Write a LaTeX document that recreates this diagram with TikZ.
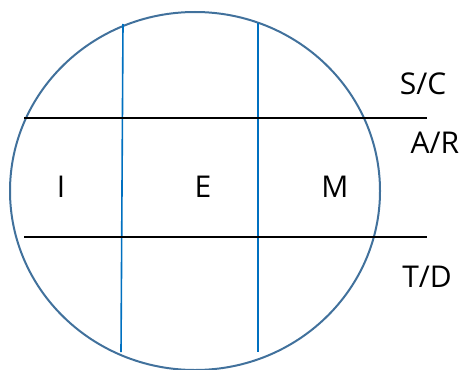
\documentclass[tikz,border=0pt]{standalone}
\usepackage{fontspec}
\setmainfont{Open Sans}
\usepackage{tikz}
\usetikzlibrary{shapes.geometric}
\definecolor{rimblue}{HTML}{41719C}
\definecolor{cutblue}{HTML}{0070C0}
\tikzset{rim/.style={draw=rimblue, line width=2pt, ellipse, inner sep=0pt},
  cutline/.style={draw=cutblue, line width=1.6pt},
  bandline/.style={draw=black, line width=1.5pt},
  lab/.style={anchor=base, inner sep=0pt, font=\fontsize{30}{36}\selectfont}}

\begin{document}
\begin{tikzpicture}[x=1pt, y=-1pt]
\useasboundingbox (0,0) rectangle (462,369);
\node[rim, minimum width=370pt, minimum height=358pt] (disc) at (195,191) {};
% cuts
\coordinate (c1t) at (123,24); \coordinate (c1b) at (121,352);
\coordinate (c2t) at (258,23); \coordinate (c2b) at (258,352);
\draw[cutline] (c1t) -- (c1b);
\draw[cutline] (c2t) -- (c2b);
% bands
\coordinate (b1l) at (24,118); \coordinate (b1r) at (427,118);
\coordinate (b2l) at (24,237); \coordinate (b2r) at (427,237);
\draw[bandline] (b1l) -- (b1r);
\draw[bandline] (b2l) -- (b2r);
\node[lab] (sc) at (423,94) {S/C};
\node[lab] (ar) at (435,153) {A/R};
\node[lab] (td) at (427,287) {T/D};
\node[lab] (i) at (61,197) {I};
\node[lab] (e) at (203,197) {E};
\node[lab] (m) at (335,197) {M};
\end{tikzpicture}
\end{document}
